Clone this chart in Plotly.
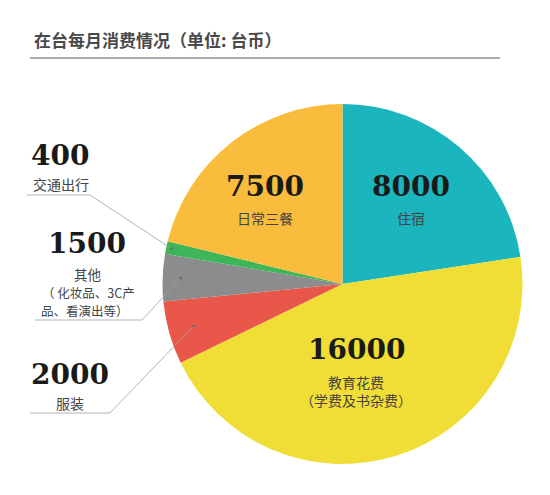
import math
import plotly.graph_objects as go

# ---- data ----
categories = ["住宿", "教育花费", "服装", "其他", "交通出行", "日常三餐"]
values = [8000, 16000, 2000, 1500, 400, 7500]
notes = [[], ["（学费及书杂费）"], [], ["（ 化妆品、3C产", "品、看演出等）"], [], []]
colors = ["#1BB5BE", "#F0DE36", "#E8574A", "#8C8C8E", "#3DB558", "#F9BC3C"]
title_text = "在台每月消费情况（单位: 台币）"

W, H = 550, 495
OFF = 8  # page body margin
CX, CY, R = 342.5, 284.0, 180.0

fig = go.Figure()
fig.add_trace(go.Pie(
    labels=categories, values=values, sort=False, direction="clockwise",
    rotation=0, textinfo="none", hoverinfo="skip", showlegend=False,
    marker=dict(colors=colors, line=dict(width=0)),
    domain=dict(x=[(CX - R - OFF) / W, (CX + R - OFF) / W],
                y=[1 - (CY + R - OFF) / H, 1 - (CY - R - OFF) / H]),
))

NUM_FONT = dict(family="DejaVu Serif", size=28, color="#1a1a1a", weight=900)
LBL_FONT = dict(family="Noto Sans CJK SC", size=14, color="#444444")

ann = []
def add(x, y, text, font, xanchor="center", yanchor="middle"):
    ann.append(dict(x=x, y=y, xref="x", yref="y", text=text, showarrow=False,
                    font=font, xanchor=xanchor, yanchor=yanchor, align="center"))

# inside labels
inside = {0: (411, 186, 215), 5: (265, 186, 215), 1: (356, 349, 379)}
for i, (x, yn, yl) in inside.items():
    add(x, yn, f"{values[i]}", NUM_FONT)
    add(x, yl - 9, "<br>".join([categories[i]] + notes[i]), LBL_FONT, yanchor="top")

# outside labels
add(60, 155, f"{values[4]}", NUM_FONT)
add(61, 183.5, categories[4], LBL_FONT)
add(87, 243, f"{values[3]}", NUM_FONT)
small = dict(LBL_FONT, size=12.5)
add(87, 274, categories[3], dict(LBL_FONT, size=13.5))
for k, line in enumerate(notes[3]):
    add(88 - 3 * k, 292 + 18 * k, line, small)
add(70, 374, f"{values[2]}", NUM_FONT)
add(70, 403, categories[2], LBL_FONT)

add(32, 39, "<b>" + title_text + "</b>", dict(family="Noto Sans CJK SC", size=17, color="#4a4a4a"), xanchor="left")

# leader points computed from slice angles
total = sum(values)
cum = 0
mid = []
for v in values:
    mid.append((cum + v / 2) / total * 2 * math.pi)
    cum += v
def pt(i, frac):
    a = mid[i]
    return CX + frac * R * math.sin(a), CY - frac * R * math.cos(a)

shapes = [dict(type="line", xref="x", yref="y", x0=30, x1=500, y0=58, y1=58,
               line=dict(color="#aaaaaa", width=2))]
leaders = [(4, 0.97, (27, 195), (90, 195)),
           (3, 0.90, (35, 320), (142, 320)),
           (2, 0.86, (30, 413), (110, 413))]
for i, frac, a, b in leaders:
    px, py = pt(i, frac)
    shapes.append(dict(type="path", xref="x", yref="y",
                       path=f"M {a[0]},{a[1]} L {b[0]},{b[1]} L {px:.1f},{py:.1f}",
                       line=dict(color="#a0a0a0", width=0.8)))
    shapes.append(dict(type="circle", xref="x", yref="y", x0=px - 1.3, x1=px + 1.3,
                       y0=py - 1.3, y1=py + 1.3, fillcolor="#666666", line=dict(width=0)))

fig.update_layout(
    width=W, height=H, margin=dict(l=0, r=0, t=0, b=0),
    paper_bgcolor="white", plot_bgcolor="rgba(0,0,0,0)",
    xaxis=dict(range=[OFF, W + OFF], visible=False, domain=[0, 1], fixedrange=True),
    yaxis=dict(range=[H + OFF, OFF], visible=False, domain=[0, 1], fixedrange=True),
    annotations=ann, shapes=shapes,
)
fig.write_html("out.html")
